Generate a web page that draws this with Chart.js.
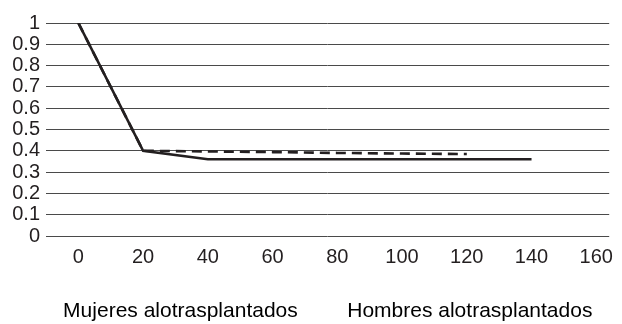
<!DOCTYPE html>
<html>
<head>
<meta charset="utf-8">
<script src="https://cdn.jsdelivr.net/npm/chart.js@4.4.1/dist/chart.umd.min.js"></script>
<style>
  html, body { margin: 0; padding: 0; background: #ffffff; }
  #wrap { width: 622px; height: 324px; }
</style>
</head>
<body>
<div id="wrap"><canvas id="c" width="622" height="324"></canvas></div>
<script>
const seriesNames = ['Mujeres alotrasplantados', 'Hombres alotrasplantados'];
const xTickValues = [0, 20, 40, 60, 80, 100, 120, 140, 160];
const mujeresX = [0, 20, 40, 60, 80, 100, 120, 140];
const mujeresY = [1, 0.40, 0.36, 0.36, 0.36, 0.36, 0.36, 0.36];
const hombresX = [0, 20, 40, 60, 80, 100, 120];
const hombresY = [1, 0.40, 0.397, 0.394, 0.39, 0.387, 0.385];

const ink = '#231f20';
const fontFam = 'Liberation Sans, Arial, sans-serif';
const toPts = (xs, ys) => xs.map((x, i) => ({ x: x, y: ys[i] }));

new Chart(document.getElementById('c'), {
  type: 'line',
  data: {
    datasets: [
      {
        label: seriesNames[0],
        data: toPts(mujeresX, mujeresY),
        borderColor: ink,
        borderWidth: 2.6,
        pointRadius: 0,
        tension: 0,
        fill: false
      },
      {
        label: seriesNames[1],
        data: toPts(hombresX, hombresY),
        borderColor: ink,
        borderWidth: 2.6,
        borderDash: [10, 6],
        pointRadius: 0,
        tension: 0,
        fill: false
      }
    ]
  },
  options: {
    responsive: false,
    animation: false,
    devicePixelRatio: 1,
    layout: { padding: { top: 23, right: 2, left: 0, bottom: 0 } },
    plugins: {
      tooltip: { enabled: false },
      legend: {
        position: 'bottom',
        maxHeight: 37.5,
        labels: {
          color: ink,
          font: { family: fontFam, size: 21 },
          boxWidth: 25,
          padding: 14,
          generateLabels: (chart) => chart.data.datasets.map((d, i) => ({
            text: d.label,
            fillStyle: 'rgba(0,0,0,0)',
            strokeStyle: 'rgba(0,0,0,0)',
            lineWidth: 0,
            datasetIndex: i,
            hidden: false
          }))
        }
      }
    },
    scales: {
      x: {
        type: 'linear',
        min: -10,
        max: 164,
        afterBuildTicks: (scale) => { scale.ticks = xTickValues.map(v => ({ value: v })); },
        afterFit: (scale) => { scale.height = 50.5; },
        grid: { display: false, drawTicks: false },
        border: { display: false },
        ticks: {
          color: ink,
          font: { family: fontFam, size: 20 },
          padding: 9,
          maxRotation: 0,
          autoSkip: false,
          callback: (v) => String(v)
        }
      },
      y: {
        min: 0,
        max: 1,
        afterFit: (scale) => { scale.width = 46; },
        ticks: {
          stepSize: 0.1,
          autoSkip: false,
          color: ink,
          font: { family: fontFam, size: 20 },
          padding: 6,
          callback: (v) => String(Math.round(v * 10) / 10)
        },
        grid: { color: '#4a4a4a', lineWidth: 1, drawTicks: false },
        border: { display: false }
      }
    }
  }
});
</script>
</body>
</html>
